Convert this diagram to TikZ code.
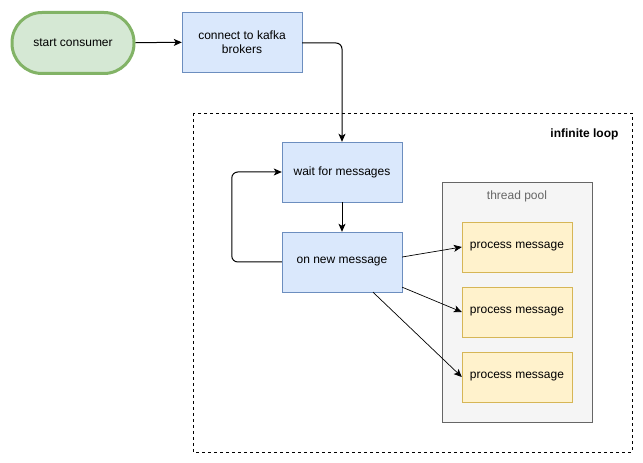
\documentclass[tikz,border=0pt]{standalone}
\usepackage{fontspec}
\setmainfont{Liberation Sans}
\usetikzlibrary{arrows.meta}

\definecolor{stepfill}{HTML}{DAE8FC}
\definecolor{stepline}{HTML}{6C8EBF}
\definecolor{startfill}{HTML}{D5E8D4}
\definecolor{startline}{HTML}{82B366}
\definecolor{workfill}{HTML}{FFF2CC}
\definecolor{workline}{HTML}{D6B656}
\definecolor{poolfill}{HTML}{F5F5F5}
\definecolor{poolline}{HTML}{666666}

\tikzset{
stepbox/.style={rectangle, minimum width=120pt, minimum height=60pt,
draw=stepline, fill=stepfill, font=\fontsize{12}{14}\selectfont,
align=center, inner sep=0pt},
startbox/.style={rectangle, rounded corners=30pt, minimum width=122pt,
minimum height=61pt, draw=startline, line width=3pt, fill=startfill,
font=\fontsize{12}{14}\selectfont, inner sep=0pt},
workbox/.style={rectangle, minimum width=110pt, minimum height=50pt,
draw=workline, fill=workfill, font=\fontsize{12}{14}\selectfont, inner sep=0pt},
flow/.style={draw, line width=1pt, -{Stealth[length=8pt,width=7pt,inset=2pt]}},
}

\begin{document}
\begin{tikzpicture}
% 1px of the sketch = 1pt
\useasboundingbox (0, 0) rectangle (643pt, 463pt);
\draw[dashed, line width=0.8pt] (193pt, 350pt) rectangle (632pt, 11pt);
	\node[font=\bfseries\fontsize{12}{14}\selectfont, anchor=east] (looplabel) at (622pt, 329pt) {infinite loop};
\draw[draw=poolline, fill=poolfill] (442pt, 281pt) rectangle (592pt, 41pt);
	\node[text=poolline, font=\fontsize{12}{14}\selectfont] (poollabel) at (517pt, 267pt) {thread pool};
	\node[startbox] (start) at (73pt, 420pt) {start consumer};
	\node[stepbox] (connect) at (242pt, 421pt) {connect to kafka\\brokers};
	\node[stepbox] (wait) at (342pt, 291pt) {wait for messages};
	\node[stepbox] (newmsg) at (342pt, 201pt) {on new message};
	\node[workbox] (work1) at (517pt, 216pt) {process message};
	\node[workbox] (work2) at (517pt, 151pt) {process message};
	\node[workbox] (work3) at (517pt, 86pt) {process message};
\draw[flow] (start) -- (connect);
\draw[flow, rounded corners=6pt] ([yshift=-1pt]connect.east) -| (wait.north);
\draw[flow] (wait) -- (newmsg);
\draw[flow, rounded corners=6pt] (newmsg.west) -- ++(-50pt, 0) |- (wait.west);
\draw[flow, line width=0.7pt] ([yshift=5pt]newmsg.east) -- (work1.west);
\draw[flow, line width=0.7pt] ([yshift=5pt]newmsg.south east) -- (work2.west);
\draw[flow, line width=0.7pt] ([xshift=31pt]newmsg.south) -- (work3.west);
\end{tikzpicture}
\end{document}
